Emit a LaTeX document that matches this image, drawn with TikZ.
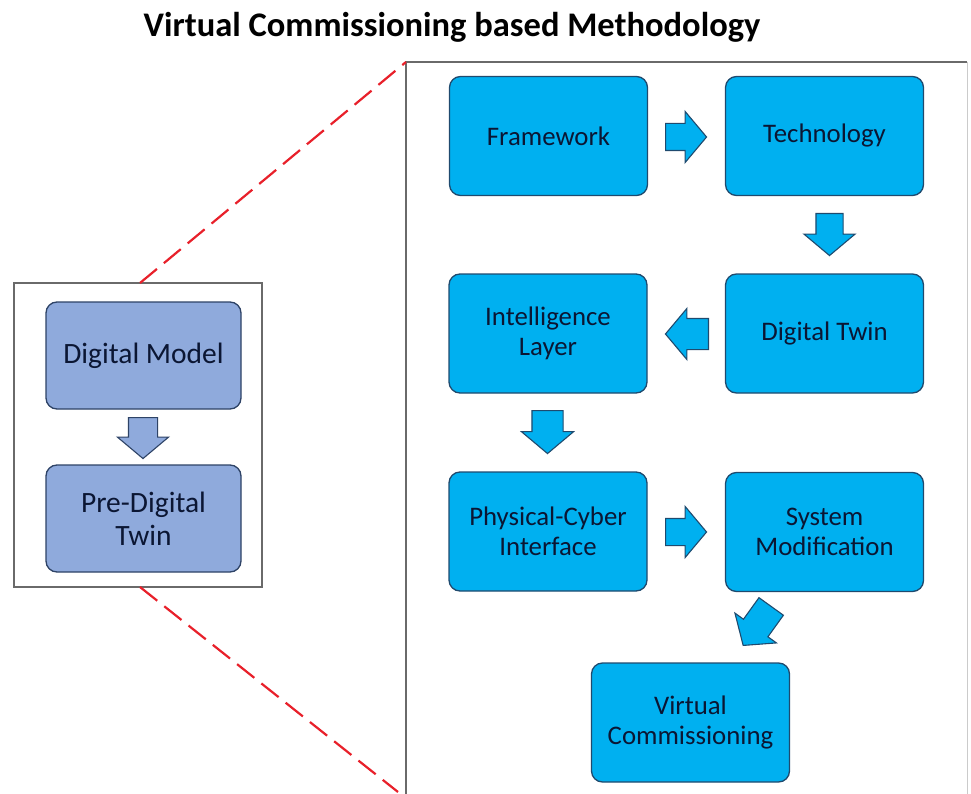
\documentclass[tikz,border=0pt]{standalone}
\usepackage{fontspec}
\setmainfont{Carlito}
\usetikzlibrary{shapes.arrows,calc}
\definecolor{boxblue}{HTML}{00B0F0}
\definecolor{boxedge}{HTML}{1F4A6E}
\definecolor{peri}{HTML}{8FAADC}
\definecolor{periedge}{HTML}{2E4366}
\definecolor{txt}{HTML}{0B1633}
\definecolor{dashred}{HTML}{E8202A}
\definecolor{frame}{HTML}{6A6A6A}
\tikzset{
  bluebox/.style={draw=boxedge, fill=boxblue, line width=1.3pt, rounded corners=11pt,
    minimum width=198pt, minimum height=119pt, align=center, text=txt,
    font=\fontsize{26.8}{30}\selectfont, inner sep=2pt},
  peribox/.style={draw=periedge, fill=peri, line width=1.3pt, rounded corners=11pt,
    minimum width=195pt, minimum height=107pt, align=center, text=txt,
    font=\fontsize{29.5}{33}\selectfont, inner sep=2pt},
  barrow/.style={single arrow, draw=boxedge, fill=boxblue, line width=1.1pt,
    minimum height=42pt, single arrow head extend=12pt, inner xsep=0pt, inner ysep=13pt,
    single arrow tip angle=100, anchor=tail},
  frameline/.style={draw=frame, line width=1.3pt},
  redlink/.style={draw=dashred, line width=2.2pt, dash pattern=on 22pt off 9pt}
}
\begin{document}
\begin{tikzpicture}[x=1pt,y=-1pt]
\useasboundingbox (0,0) rectangle (971,794);
% title
\node[font=\fontsize{34.5}{40}\selectfont\bfseries, text=black] (title) at (452,27) {Virtual Commissioning based Methodology};
% left frame
\node[frameline, fill=white, minimum width=248pt, minimum height=304pt, inner sep=0pt] (leftframe) at (138,435) {};
% right panel
\coordinate (pTL) at (406,62);
\coordinate (pTR) at (967,62);
\coordinate (pBL) at (406,794);
\coordinate (pBR) at (967,794);
\draw[frameline] (pBL) -- (pTL) -- (pTR);
\draw[draw=frame!35, line width=1pt] (pTR) -- (pBR);
% red dashed links
\coordinate (lt) at (140,283);
\coordinate (lb) at (140,587);
\coordinate (rb) at (398,792);
\draw[redlink] (lt) -- (pTL);
\draw[redlink] (lb) -- (rb);
% left boxes
\node[peribox] (dm) at (143.5,355.5) {Digital Model};
\node[peribox] (pdt) at (143.5,518.5) {Pre-Digital\\Twin};
\node[barrow, fill=peri, draw=periedge, rotate=-90, minimum height=41pt, inner ysep=14pt, single arrow head extend=11pt] (a0) at (143,417) {};
% right boxes
\node[bluebox] (fw) at (548.5,136) {Framework};
\node[bluebox] (tech) at (824.5,136) {Technology};
\node[bluebox] (il) at (548,333.5) {Intelligence\\Layer};
\node[bluebox] (dt) at (824.5,333.5) {Digital Twin};
\node[bluebox] (pc) at (548,531.5) {Physical-Cyber\\Interface};
\node[bluebox] (sm) at (824.5,532) {System\\Modification};
\node[bluebox] (vc) at (690.5,722.5) {Virtual\\Commissioning};
% block arrows
\node[barrow, minimum height=41pt] (a1) at (665,137) {};
\node[barrow, rotate=-90] (a2) at (829.5,213) {};
\node[barrow, rotate=180, minimum height=43pt, inner ysep=15pt, single arrow head extend=10pt] (a3) at (709,334) {};
\node[barrow, rotate=-90, minimum height=43pt, inner ysep=15pt, single arrow head extend=10.5pt] (a4) at (547.5,410) {};
\node[barrow, minimum height=41pt] (a5) at (665,532) {};
\node[barrow, rotate=-125.7, minimum height=48pt, inner ysep=14.5pt, single arrow head extend=10.5pt] (a6) at (771.5,606) {};
\end{tikzpicture}
\end{document}
